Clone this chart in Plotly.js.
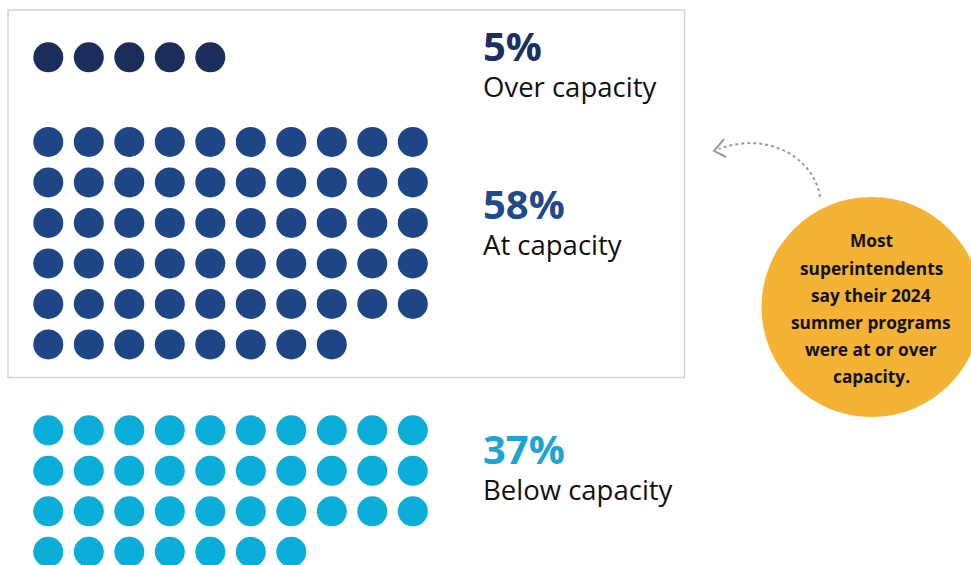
<!DOCTYPE html>
<html><head><meta charset="utf-8">
<script src="https://cdn.plot.ly/plotly-3.0.1.min.js"></script>
<style>html,body{margin:0;padding:0;background:#fff;}</style>
</head><body>
<div id="chart" style="width:971px;height:565px;"></div>
<script>
// ---- data ----
const groups = ["Over capacity", "At capacity", "Below capacity"];
const percents = [5, 58, 37];
const groupColors = ["#1b2d5a", "#1e4585", "#0aaed9"];
const labelColors = ["#1c2f5f", "#1f4a8c", "#1ba6d2"];
const perRow = 10;
const calloutLines = ["Most", "superintendents", "say their 2024", "summer programs", "were at or over", "capacity."];

// ---- layout helpers ----
const W = 971, H = 565;
const px = v => v / W;
const py = v => 1 - v / H;
const groupStartRow = [0, 2.09, 9.21];
const labelMid = [62, 220, 464];

const traces = groups.map((g, gi) => {
  const xs = [], ys = [];
  for (let i = 0; i < percents[gi]; i++) {
    xs.push(i % perRow);
    ys.push(groupStartRow[gi] + Math.floor(i / perRow));
  }
  return {type: "scatter", mode: "markers", x: xs, y: ys, name: g,
    marker: {size: 30, color: groupColors[gi], line: {width: 0}},
    hoverinfo: "skip", showlegend: false};
});

const annotations = [];
groups.forEach((g, gi) => {
  annotations.push({xref: "paper", yref: "paper", x: px(481), y: py(labelMid[gi]),
    xanchor: "left", yanchor: "middle", align: "left", showarrow: false,
    text: "<span style='font-size:40px;color:" + labelColors[gi] + "'><b>" + percents[gi] + "%</b></span><br>" + g,
    font: {family: "Open Sans", size: 27.5, color: "#111"}});
});
calloutLines.forEach((t, i) => {
  annotations.push({xref: "paper", yref: "paper", x: px(871), y: py(241 + i * 27.2),
    xanchor: "center", yanchor: "middle", showarrow: false,
    text: "<b>" + t + "</b>", font: {family: "Open Sans", size: 17.3, color: "#111"}});
});

function P(x, y) { return px(x) + "," + py(y); }
const shapes = [
  {type: "rect", xref: "paper", yref: "paper", x0: px(8), x1: px(684.5), y0: py(10), y1: py(377.5),
    line: {color: "#d2d2d2", width: 1.5}, fillcolor: "rgba(0,0,0,0)", layer: "below"},
  {type: "circle", xref: "paper", yref: "paper", x0: px(761.5), x1: px(981.5), y0: py(197), y1: py(417),
    line: {width: 0}, fillcolor: "#f4b334", layer: "below"},
  {type: "path", xref: "paper", yref: "paper",
    path: "M" + P(820, 197) + " C" + P(815, 160) + " " + P(770, 130) + " " + P(719, 149),
    line: {color: "#9a9a9a", width: 2, dash: "dot"}},
  {type: "path", xref: "paper", yref: "paper",
    path: "M" + P(724, 139) + " L" + P(714, 151) + " L" + P(726, 157),
    line: {color: "#9a9a9a", width: 2}}
];

const layout = {
  width: W, height: H, margin: {l: 0, r: 0, t: 0, b: 0},
  paper_bgcolor: "#fff", plot_bgcolor: "rgba(0,0,0,0)",
  xaxis: {range: [-48.3 / 40.5, (W - 48.3) / 40.5], visible: false, fixedrange: true},
  yaxis: {range: [(H - 57.3) / 40.5, -57.3 / 40.5], visible: false, fixedrange: true},
  shapes: shapes, annotations: annotations, showlegend: false
};
Plotly.newPlot("chart", traces, layout, {staticPlot: true, displayModeBar: false});
</script>
</body></html>
